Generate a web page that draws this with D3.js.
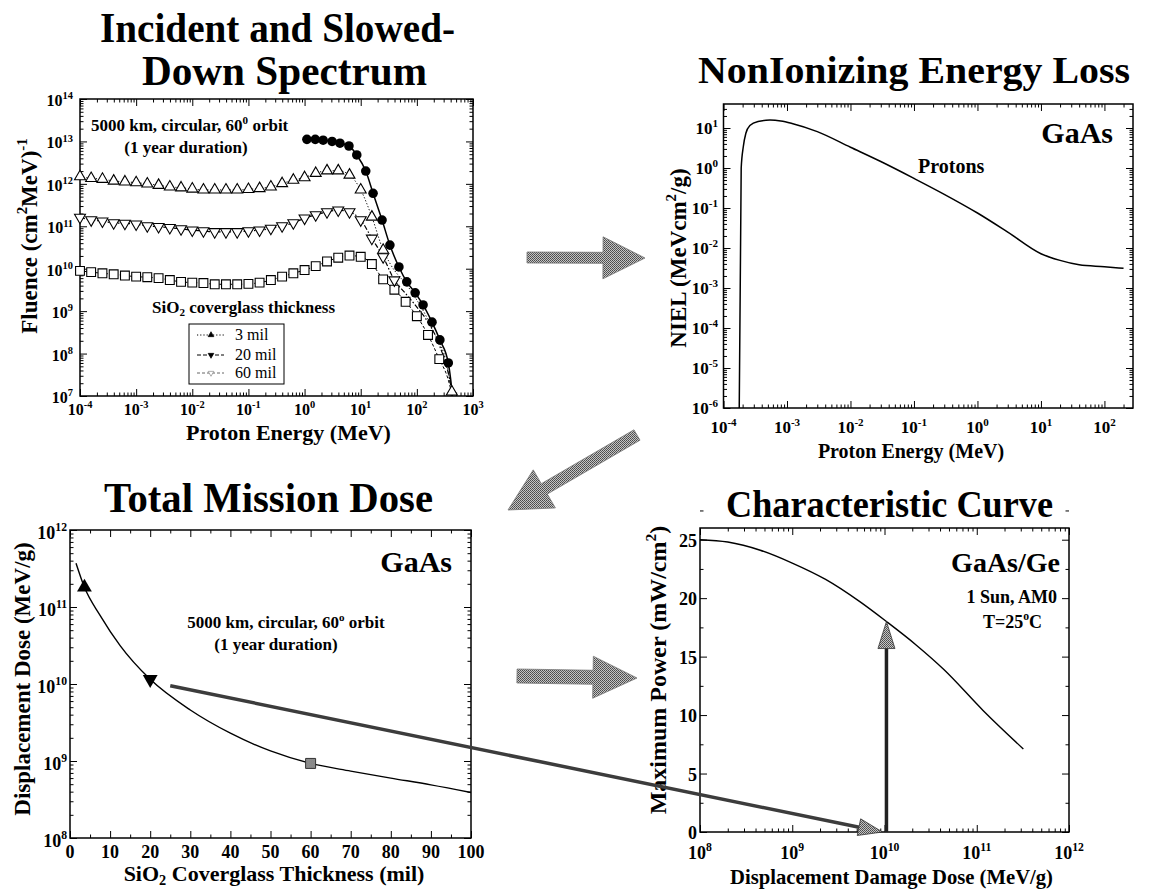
<!DOCTYPE html>
<html><head><meta charset="utf-8">
<script src="https://cdn.jsdelivr.net/npm/d3@7"></script>
<style>
body{margin:0;background:#fff}
svg{display:block}
text{font-family:"Liberation Serif","Times New Roman",Times,serif;font-weight:bold;fill:#000}
</style>
</head><body>
<svg id="c" width="1152" height="890"></svg>
<script>
// ---------- DATA ----------
// Panel 1: incident & slowed-down spectrum (energy grid in MeV, 0.2-decade steps)
const gridE = [1e-4,1.58e-4,2.51e-4,3.98e-4,6.31e-4,1e-3,1.58e-3,2.51e-3,3.98e-3,6.31e-3,1e-2,1.58e-2,2.51e-2,3.98e-2,6.31e-2,0.1,0.158,0.251,0.398,0.631,1,1.58,2.51,3.98,6.31,10,15.8,25.1,39.8,63.1,100,158,251];
const incidentE = [1.10,1.55,2.14,3.09,4.27,6.17,8.51,12.3,16.6,24.0,33.1,47.9,66.1,93.3,129,186,257,363];
const incidentF = [1.12e13,1.12e13,1.07e13,1.0e13,9.1e12,7.8e12,4.8e12,2.0e12,6.0e11,1.4e11,3.6e10,1.1e10,4.9e9,2.7e9,1.4e9,5.5e8,2.1e8,6.0e7];
const incidentTailE = [400,430];
const incidentTailF = [2.5e7,1e7];
const mil3F = [1.48e12,1.35e12,1.29e12,1.17e12,1.12e12,1.07e12,1.0e12,9.3e11,8.5e11,8.1e11,7.6e11,7.2e11,7.2e11,7.2e11,7.2e11,7.4e11,7.8e11,8.5e11,1.02e12,1.23e12,1.41e12,1.78e12,2.04e12,2.04e12,1.62e12,7.2e11,1.66e11,2.75e10];
const mil3TailE = [33,76,195,347,420];
const mil3TailF = [1.35e10,3.2e9,3.5e8,5e7,1.25e7];
const mil20F = [1.62e11,1.41e11,1.32e11,1.20e11,1.17e11,1.12e11,1.02e11,9.8e10,9.3e10,8.7e10,8.1e10,7.8e10,7.4e10,7.4e10,7.4e10,7.8e10,8.1e10,8.9e10,1.02e11,1.20e11,1.55e11,1.86e11,2.19e11,2.40e11,2.19e11,1.41e11,5.2e10,1.9e10,5.4e9];
const mil20TailE = [63.1,100,158,251,400,430];
const mil20TailF = [2.6e9,1.25e9,5.5e8,1.6e8,1.8e7,1e7];
const mil60F = [8.9e9,8.3e9,7.8e9,7.4e9,6.9e9,6.5e9,6.3e9,6.0e9,5.4e9,4.9e9,4.7e9,4.6e9,4.3e9,4.3e9,4.3e9,4.4e9,4.7e9,5.4e9,6.5e9,7.8e9,9.3e9,1.15e10,1.48e10,1.82e10,2.04e10,1.91e10,1.29e10,5.6e9,3.2e9,1.66e9,7.6e8,2.75e8,7.4e7];
const mil60TailE = [350,430];
const mil60TailF = [2.8e7,1e7];
const legendLabels = ["3 mil","20 mil","60 mil"];

// Panel 2: NIEL for protons in GaAs
const nielE = [1.77e-4,1.9e-4,2.05e-4,2.25e-4,2.6e-4,3.5e-4,5.4e-4,8e-4,1.2e-3,3e-3,1e-2,3e-2,0.1,0.3,1,3,10,20,40,100,200];
const nielV = [1e-6,1,3.4,7.4,11.5,14.6,15.8,15.0,13.0,8.1,3.3,1.45,0.55,0.22,0.075,0.025,0.0072,0.0049,0.0038,0.0034,0.0031];

// Panel 3: total mission dose vs coverglass thickness
const thick = [1.5,3.6,7.5,12.5,20,30,40,50,60,70,80,90,100];
const dose = [3.7e11,1.8e11,7.8e10,3.15e10,1.15e10,4.6e9,2.3e9,1.35e9,9.3e8,7.4e8,6.0e8,4.9e8,3.9e8];
const markThick = [3.6,20,60];
const markDose = [1.8e11,1.15e10,9.3e8];
const thickTicks = [0,10,20,30,40,50,60,70,80,90,100];

// Panel 4: characteristic curve
const ddd = [1e8,2e8,4.5e8,1e9,2.3e9,5.4e9,1.05e10,2.2e10,4.4e10,1.17e11,3.2e11];
const pmax = [25.0,24.8,24.1,23.0,21.6,19.7,18.0,16.0,13.9,10.4,7.1];
const powerTicks = [0,5,10,15,20,25];

// Mapping: 25 mil -> dose, read onto curve
const mapThick = 25, mapDose = 9.5e9, readDose = 1.05e10, readPower = 18.0;

// ---------- SETUP ----------
const svg = d3.select('#c');
const defs = svg.append('defs');
const pat = defs.append('pattern').attr('id','dith').attr('width',2).attr('height',2).attr('patternUnits','userSpaceOnUse');
pat.append('rect').attr('width',2).attr('height',2).attr('fill','#c4c4c4');
pat.append('rect').attr('width',1).attr('height',1).attr('fill','#4a4a4a');
pat.append('rect').attr('x',1).attr('y',1).attr('width',1).attr('height',1).attr('fill','#5a5a5a');

const isPow10 = v => Math.abs(Math.log10(v)-Math.round(Math.log10(v)))<1e-6;

function ticksOf(scale, isLog, major, minor){
  if(isLog){
    const d = scale.domain();
    const all = scale.ticks().filter(v=>v>=d[0]*0.999 && v<=d[1]*1.001);
    return [all.filter(isPow10), all.filter(v=>!isPow10(v))];
  }
  return [major, minor];
}

function axesFrame(x, y, o){
  const g = svg.append('g');
  const [xa,xb] = x.range(), [ya,yb] = y.range();
  const [xM,xm] = ticksOf(x, o.xLog, o.xMajor, o.xMinor);
  const [yM,ym] = ticksOf(y, o.yLog, o.yMajor, o.yMinor);
  const clean = s => { s.select('.domain').remove(); s.selectAll('line').attr('stroke','#000').attr('stroke-width',1); };
  const add = (tr, ax, vals, size) => g.append('g').attr('transform',tr).call(ax.tickValues(vals).tickSize(-size).tickFormat('')).call(clean);
  [[xM,7],[xm,3.5]].forEach(([v,s])=>{
    add(`translate(0,${ya})`, d3.axisBottom(x), v, s);
    add(`translate(0,${yb})`, d3.axisTop(x), v, s);
  });
  [[yM,7],[ym,3.5]].forEach(([v,s])=>{
    add(`translate(${xa},0)`, d3.axisLeft(y), v, s);
    add(`translate(${xb},0)`, d3.axisRight(y), v, s);
  });
  g.append('rect').attr('x',xa).attr('y',yb).attr('width',xb-xa).attr('height',ya-yb)
    .attr('fill','none').attr('stroke','#000').attr('stroke-width',1.5);
  return {g, xM, yM};
}

function rich(parts, size, x, y, anchor, extra){
  const t = svg.append('text').attr('font-size',size).attr('text-anchor',anchor||'start');
  if(extra && extra.rotate){ t.attr('transform',`translate(${x},${y}) rotate(-90)`); }
  else { t.attr('x',x).attr('y',y); }
  if(extra && extra.weight) t.style('font-weight',extra.weight);
  let shift = 0;
  parts.forEach(p=>{
    const obj = typeof p==='string' ? {t:p} : p;
    const target = obj.sup ? -0.42*size : obj.sub ? 0.2*size : 0;
    const ts = t.append('tspan').attr('dy', target-shift).text(obj.t);
    shift = target;
    if(obj.sup||obj.sub) ts.attr('font-size', size*0.65);
  });
  return t;
}
function powLabel(v){ return ['10',{t:String(Math.round(Math.log10(v))),sup:true}]; }
function title(str, size, cx, y, w){
  svg.append('text').attr('x',cx).attr('y',y).attr('text-anchor','middle').attr('font-size',size)
    .attr('textLength',w).attr('lengthAdjust','spacingAndGlyphs').text(str);
}
function blockArrow(x1,y1,x2,y2,sw,hw,hl,fill,stroke){
  const dx=x2-x1, dy=y2-y1, L=Math.hypot(dx,dy), ux=dx/L, uy=dy/L, nx=-uy, ny=ux;
  const bx=x2-ux*hl, by=y2-uy*hl;
  const pts=[[x1+nx*sw,y1+ny*sw],[bx+nx*sw,by+ny*sw],[bx+nx*hw,by+ny*hw],[x2,y2],[bx-nx*hw,by-ny*hw],[bx-nx*sw,by-ny*sw],[x1-nx*sw,y1-ny*sw]];
  svg.append('polygon').attr('points',pts.map(p=>p.join(',')).join(' '))
    .attr('fill',fill||'url(#dith)').attr('stroke',stroke||'#777').attr('stroke-width',0.8);
}
const zip = (a,b)=>a.map((v,i)=>[v,b[i]]);

// ---------- PANEL 1 ----------
const x1 = d3.scaleLog().domain([1e-4,1e3]).range([80,473]);
const y1 = d3.scaleLog().domain([1e7,1e14]).range([396,99]);
const p1 = axesFrame(x1,y1,{xLog:true,yLog:true});
p1.xM.forEach(v=>rich(powLabel(v),16,x1(v),415,'middle'));
p1.yM.forEach(v=>rich(powLabel(v),16,73,y1(v)+7,'end'));
title('Incident and Slowed-',43,277.5,42,355);
title('Down Spectrum',43,284.5,85,285);
rich(['Fluence (cm',{t:'2',sup:true},'MeV)',{t:'-1',sup:true}],23,37,236,'middle',{rotate:true});
rich(['Proton Energy (MeV)'],22,288.5,440,'middle');
rich(['5000 km, circular, 60',{t:'0',sup:true},' orbit'],17,91,131,'start');
rich(['(1 year duration)'],17,186,153,'middle');
rich(['SiO',{t:'2',sub:true},' coverglass thickness'],17,152,313,'start');

const line1 = d3.line().x(d=>x1(d[0])).y(d=>y1(d[1])).curve(d3.curveMonotoneX);
const gP1 = svg.append('g');
const incPts = zip(incidentE,incidentF), incLine = incPts.concat(zip(incidentTailE,incidentTailF));
const m3Pts = zip(gridE.slice(0,mil3F.length),mil3F), m3Tail = zip(mil3TailE,mil3TailF);
const m20Pts = zip(gridE.slice(0,mil20F.length),mil20F), m20Tail = zip(mil20TailE,mil20TailF);
const m60Pts = zip(gridE.slice(0,mil60F.length),mil60F), m60Tail = zip(mil60TailE,mil60TailF);
gP1.append('path').attr('d',line1(m60Pts.concat(m60Tail))).attr('fill','none').attr('stroke','#000').attr('stroke-width',1).attr('stroke-dasharray','3,2');
gP1.append('path').attr('d',line1(m20Pts.concat(m20Tail))).attr('fill','none').attr('stroke','#000').attr('stroke-width',1.2).attr('stroke-dasharray','5,2,1.5,2');
gP1.append('path').attr('d',line1(m3Pts.concat(m3Tail))).attr('fill','none').attr('stroke','#000').attr('stroke-width',1).attr('stroke-dasharray','1.2,2');
gP1.append('path').attr('d',line1(incLine)).attr('fill','none').attr('stroke','#000').attr('stroke-width',1.5);
const tri = d3.symbol().type(d3.symbolTriangle).size(52)();
const sq = d3.symbol().type(d3.symbolSquare).size(78)();
const circ = d3.symbol().type(d3.symbolCircle).size(72)();
gP1.selectAll('.sq').data(m60Pts).join('path').attr('d',sq).attr('transform',d=>`translate(${x1(d[0])},${y1(d[1])})`).attr('fill','#fff').attr('stroke','#000').attr('stroke-width',1.1);
gP1.selectAll('.dt').data(m20Pts).join('path').attr('d',tri).attr('transform',d=>`translate(${x1(d[0])},${y1(d[1])}) rotate(180)`).attr('fill','#fff').attr('stroke','#000').attr('stroke-width',1.1);
gP1.selectAll('.ut').data(m3Pts.concat([m3Tail[m3Tail.length-1]])).join('path').attr('d',tri).attr('transform',d=>`translate(${x1(d[0])},${y1(d[1])})`).attr('fill','#fff').attr('stroke','#000').attr('stroke-width',1.1);
gP1.selectAll('.ci').data(incPts).join('path').attr('d',circ).attr('transform',d=>`translate(${x1(d[0])},${y1(d[1])})`).attr('fill','#000');

// legend
const lg = svg.append('g');
lg.append('rect').attr('x',189).attr('y',324).attr('width',95).attr('height',60).attr('fill','#fff').attr('stroke','#000').attr('stroke-width',1);
const legDash = ['1.2,2','4,2','3,2'];
const smallTri = d3.symbol().type(d3.symbolTriangle).size(14)();
legendLabels.forEach((lab,i)=>{
  const yy = [335,355,373][i];
  lg.append('line').attr('x1',197).attr('x2',224).attr('y1',yy).attr('y2',yy).attr('stroke', i==2?'#666':'#000').attr('stroke-width',1).attr('stroke-dasharray',legDash[i]);
  lg.append('path').attr('d',smallTri).attr('transform',`translate(211,${yy}) ${i>0?'rotate(180)':''}`)
    .attr('fill', i==2?'#fff':'#000').attr('stroke', i==2?'#888':'#000').attr('stroke-width',0.7);
  lg.append('text').attr('x',235).attr('y',yy+5).attr('font-size',16).style('font-weight','normal').text(lab);
});

// ---------- PANEL 2 ----------
const x2 = d3.scaleLog().domain([1e-4,Math.pow(10,2.45)]).range([723.5,1133]);
const y2 = d3.scaleLog().domain([1e-6,Math.pow(10,1.6)]).range([408,104]);
const p2 = axesFrame(x2,y2,{xLog:true,yLog:true});
p2.xM.forEach(v=>rich(powLabel(v),17,x2(v),433,'middle'));
p2.yM.forEach(v=>rich(powLabel(v),17,718,y2(v)+6,'end'));
title('NonIonizing Energy Loss',37,914,83,432);
rich(['NIEL (MeVcm',{t:'2',sup:true},'/g)'],23,686,258,'middle',{rotate:true});
rich(['Proton Energy (MeV)'],20,911,458,'middle');
rich(['GaAs'],30,1113,143,'end');
rich(['Protons'],20,918,173,'start');
svg.append('path').attr('d',d3.line().x(d=>x2(d[0])).y(d=>y2(d[1])).curve(d3.curveMonotoneX)(zip(nielE,nielV)))
  .attr('fill','none').attr('stroke','#000').attr('stroke-width',1.5);

// ---------- PANEL 3 ----------
const x3 = d3.scaleLinear().domain([0,100]).range([70,471]);
const y3 = d3.scaleLog().domain([1e8,1e12]).range([838,530]);
const p3 = axesFrame(x3,y3,{xLog:false,yLog:true,xMajor:thickTicks,xMinor:thickTicks.slice(0,-1).map(v=>v+5)});
thickTicks.forEach(v=>rich([String(v)],18,x3(v),858,'middle'));
p3.yM.forEach(v=>rich(powLabel(v),18,67,y3(v)+9,'end'));
title('Total Mission Dose',42,268.5,512,329);
rich(['Displacement Dose (MeV/g)'],23,30,679,'middle',{rotate:true});
rich(['SiO',{t:'2',sub:true},' Coverglass Thickness (mil)'],22,274,881,'middle');
rich(['GaAs'],30,452,572,'end');
rich(['5000 km, circular, 60',{t:'o',sup:true},' orbit'],17,286,628,'middle');
rich(['(1 year duration)'],17,276,650,'middle');
svg.append('path').attr('d',d3.line().x(d=>x3(d[0])).y(d=>y3(d[1])).curve(d3.curveMonotoneX)(zip(thick,dose)))
  .attr('fill','none').attr('stroke','#000').attr('stroke-width',1.4);
const bigTri = d3.symbol().type(d3.symbolTriangle).size(95)();
const bigSq = d3.symbol().type(d3.symbolSquare).size(100)();
svg.append('path').attr('d',bigTri).attr('transform',`translate(${x3(markThick[0])},${y3(markDose[0])})`).attr('fill','#000');
svg.append('path').attr('d',bigTri).attr('transform',`translate(${x3(markThick[1])},${y3(markDose[1])}) rotate(180)`).attr('fill','#000');
svg.append('path').attr('d',bigSq).attr('transform',`translate(${x3(markThick[2])},${y3(markDose[2])})`).attr('fill','url(#dith)').attr('stroke','#333').attr('stroke-width',1);

// ---------- PANEL 4 ----------
const x4 = d3.scaleLog().domain([1e8,1e12]).range([700,1069]);
const y4 = d3.scaleLinear().domain([0,26]).range([832,528]);
const p4 = axesFrame(x4,y4,{xLog:true,yLog:false,yMajor:powerTicks,yMinor:powerTicks.map(v=>v+2.5)});
p4.xM.forEach(v=>rich(powLabel(v),18,x4(v),859,'middle'));
powerTicks.forEach(v=>rich([String(v)],18,697,y4(v)+7,'end'));
title('Characteristic Curve',38,889.5,517,327);
rich(['Maximum Power (mW/cm',{t:'2',sup:true},')'],24,666,670,'middle',{rotate:true});
svg.append('text').attr('x',891.5).attr('y',884).attr('text-anchor','middle').attr('font-size',22)
  .attr('textLength',323).attr('lengthAdjust','spacingAndGlyphs').text('Displacement Damage Dose (MeV/g)');
rich(['GaAs/Ge'],28,1060,572,'end');
rich(['1 Sun, AM0'],18,1057,603,'end');
rich(['T=25',{t:'o',sup:true},'C'],18,983,628,'start');
svg.append('path').attr('d',d3.line().x(d=>x4(d[0])).y(d=>y4(d[1])).curve(d3.curveMonotoneX)(zip(ddd,pmax)))
  .attr('fill','none').attr('stroke','#000').attr('stroke-width',1.4);

// ---------- CONNECTING ARROWS ----------
blockArrow(527,257.5,645,258,5.5,21,42);
blockArrow(637,435,508,510,6,22,42);
blockArrow(517,676,637,678,7,21,44);
(function(){
  const sx = x3(mapThick), sy = y3(mapDose), ex = x4(mapDose), ey = y4(0);
  const dx=ex-sx, dy=ey-sy, L=Math.hypot(dx,dy), ux=dx/L, uy=dy/L;
  svg.append('line').attr('x1',sx).attr('y1',sy).attr('x2',ex-ux*20).attr('y2',ey-uy*20).attr('stroke','#3c3c3c').attr('stroke-width',3.5);
  blockArrow(ex-ux*24,ey-uy*24,ex,ey,1.75,8.5,24,'url(#dith)','#333');
  const vx = x4(readDose);
  svg.append('line').attr('x1',vx).attr('x2',vx).attr('y1',y4(0)).attr('y2',y4(readPower)+24).attr('stroke','#222').attr('stroke-width',3.5);
  blockArrow(vx,y4(readPower)+27,vx,y4(readPower),1.75,8.5,27,'url(#dith)','#333');
})();
</script>
</body></html>
